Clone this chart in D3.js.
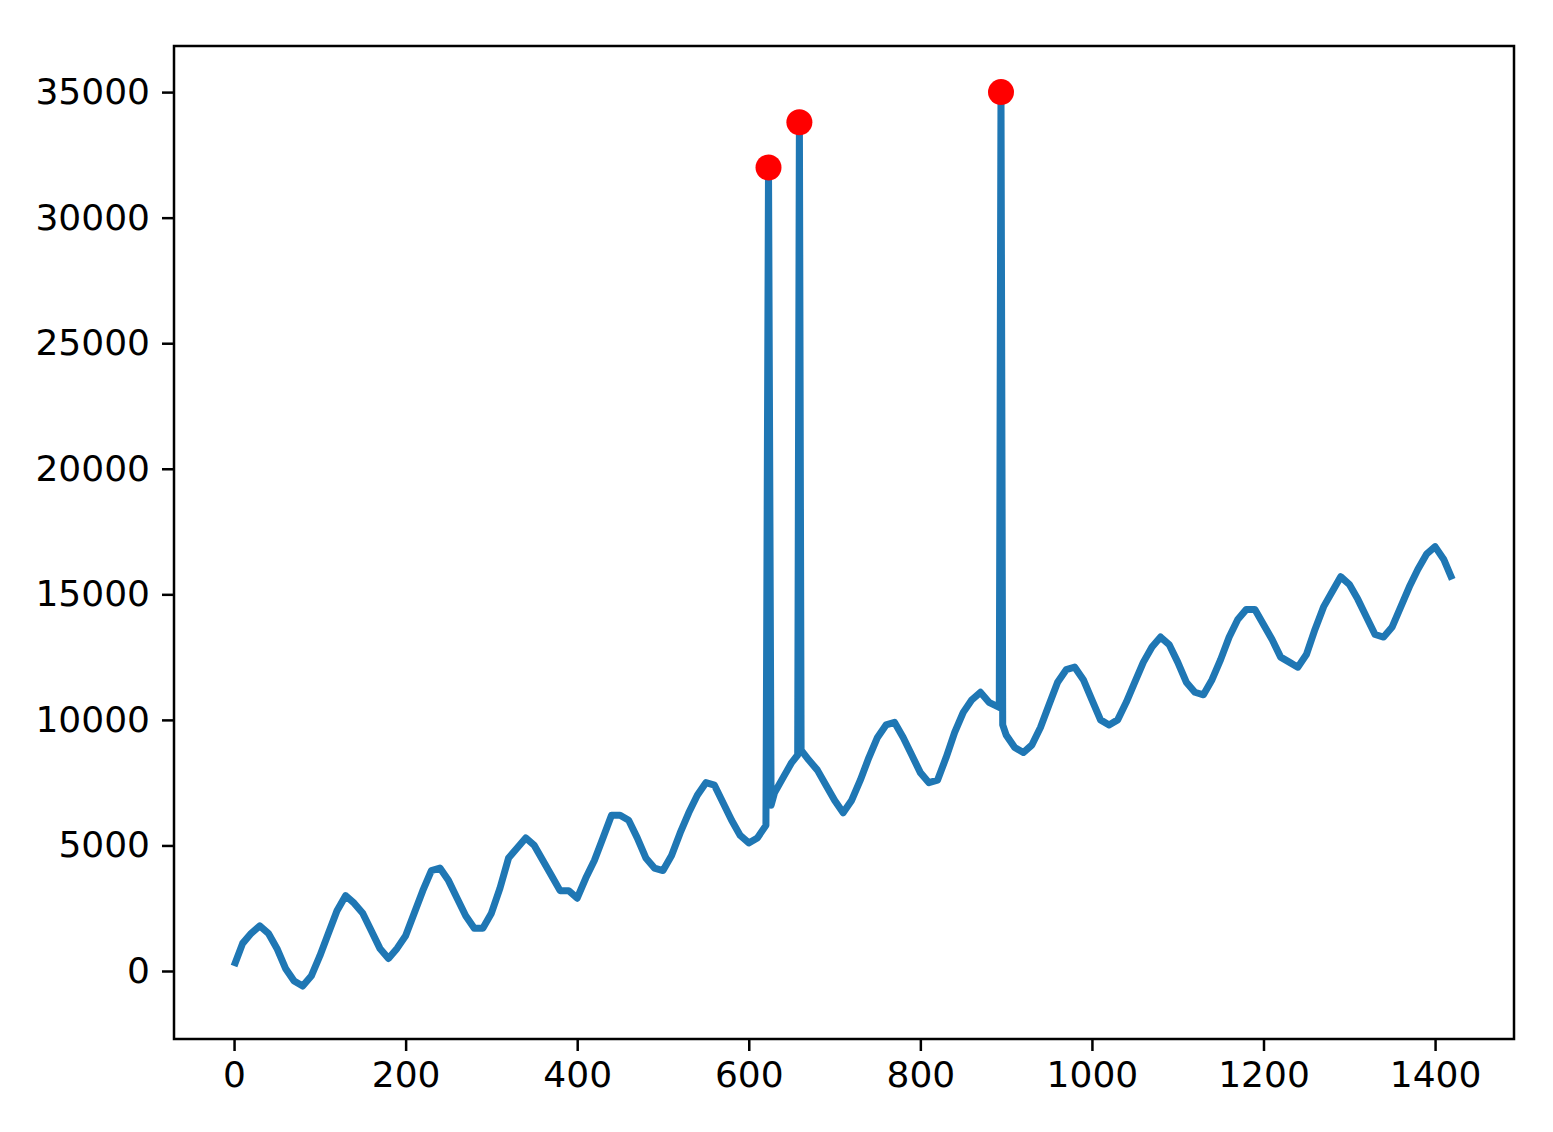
<!DOCTYPE html>
<html>
<head>
<meta charset="utf-8">
<script src="https://cdn.jsdelivr.net/npm/d3@7"></script>
<style>
  body { margin: 0; background: #fff; }
  text { font-family: "DejaVu Sans", sans-serif; }
</style>
</head>
<body>
<svg id="chart" width="1553" height="1132"></svg>
<script>
// Series values (x, y)
const xs = [0, 10, 20, 30, 40, 50, 60, 70, 80, 90, 100, 110, 120, 130, 140, 150, 160, 170, 180, 190,
  200, 210, 220, 230, 240, 250, 260, 270, 280, 290, 300, 310, 320, 330, 340, 350, 360, 370, 380, 390,
  400, 410, 420, 430, 440, 450, 460, 470, 480, 490, 500, 510, 520, 530, 540, 550, 560, 570, 580, 590,
  600, 610, 620, 623, 626, 630, 640, 650, 657, 659, 661, 670, 680, 690, 700, 710, 720, 730, 740, 750,
  760, 770, 780, 790, 800, 810, 820, 830, 840, 850, 860, 870, 880, 892, 894, 896, 900, 910, 920, 930,
  940, 950, 960, 970, 980, 990, 1000, 1010, 1020, 1030, 1040, 1050, 1060, 1070, 1080, 1090, 1100,
  1110, 1120, 1130, 1140, 1150, 1160, 1170, 1180, 1190, 1200, 1210, 1220, 1230, 1240, 1250, 1260,
  1270, 1280, 1290, 1300, 1310, 1320, 1330, 1340, 1350, 1360, 1370, 1380, 1390, 1400, 1410, 1420];
const ys = [200, 1100, 1500, 1800, 1500, 900, 100, -400, -600, -200, 600, 1500, 2400, 3000, 2700, 2300, 1600, 900, 500, 900,
  1400, 2300, 3200, 4000, 4100, 3600, 2900, 2200, 1700, 1700, 2300, 3300, 4500, 4900, 5300, 5000, 4400, 3800, 3200, 3200,
  2900, 3700, 4400, 5300, 6200, 6200, 6000, 5300, 4500, 4100, 4000, 4600, 5500, 6300, 7000, 7500, 7400, 6700, 6000, 5400,
  5100, 5300, 5800, 32000, 6600, 7100, 7700, 8300, 8600, 33800, 8800, 8400, 8000, 7400, 6800, 6300, 6800, 7600, 8500, 9300,
  9800, 9900, 9300, 8600, 7900, 7500, 7600, 8500, 9500, 10300, 10800, 11100, 10700, 10500, 35000, 9800, 9400, 8900, 8700, 9000,
  9700, 10600, 11500, 12000, 12100, 11600, 10800, 10000, 9800, 10000, 10700, 11500, 12300, 12900, 13300, 13000, 12300,
  11500, 11100, 11000, 11600, 12400, 13300, 14000, 14400, 14400, 13800, 13200, 12500, 12300, 12100, 12600, 13600,
  14500, 15100, 15700, 15400, 14800, 14100, 13400, 13300, 13700, 14500, 15300, 16000, 16600, 16900, 16400, 15600];
const spikeX = [623, 659, 894];
const spikeY = [32000, 33800, 35000];
const xTicks = [0, 200, 400, 600, 800, 1000, 1200, 1400];
const yTicks = [0, 5000, 10000, 15000, 20000, 25000, 30000, 35000];

const svg = d3.select('#chart');
const mLeft = 174, mRight = 1514, mTop = 46, mBottom = 1039;

const x = d3.scaleLinear().domain([-70, 1492]).range([mLeft, mRight]);
const y = d3.scaleLinear().domain([-2708, 36836]).range([mBottom, mTop]);

const pts = xs.map((d, i) => [d, ys[i]]);

svg.append('path')
  .datum(pts)
  .attr('fill', 'none')
  .attr('stroke', '#1f77b4')
  .attr('stroke-width', 7)
  .attr('stroke-linejoin', 'round')
  .attr('d', d3.line().x(d => x(d[0])).y(d => y(d[1])));

svg.selectAll('.dot')
  .data(spikeX)
  .enter().append('circle')
  .attr('cx', d => x(d))
  .attr('cy', (d, i) => y(spikeY[i]))
  .attr('r', 13)
  .attr('fill', 'red');

const xAxis = svg.append('g')
  .attr('transform', 'translate(0,' + mBottom + ')')
  .call(d3.axisBottom(x).tickValues(xTicks).tickSize(12).tickPadding(10).tickFormat(d3.format('d')));
const yAxis = svg.append('g')
  .attr('transform', 'translate(' + mLeft + ',0)')
  .call(d3.axisLeft(y).tickValues(yTicks).tickSize(12).tickPadding(12).tickFormat(d3.format('d')));

[xAxis, yAxis].forEach(a => {
  a.select('.domain').remove();
  a.selectAll('line').attr('stroke', '#000').attr('stroke-width', 2.5);
  a.selectAll('text').attr('font-size', 36).attr('fill', '#000')
    .attr('font-family', '"DejaVu Sans", sans-serif');
});

svg.append('rect')
  .attr('x', mLeft).attr('y', mTop)
  .attr('width', mRight - mLeft).attr('height', mBottom - mTop)
  .attr('fill', 'none').attr('stroke', '#000').attr('stroke-width', 2.5);
</script>
</body>
</html>
